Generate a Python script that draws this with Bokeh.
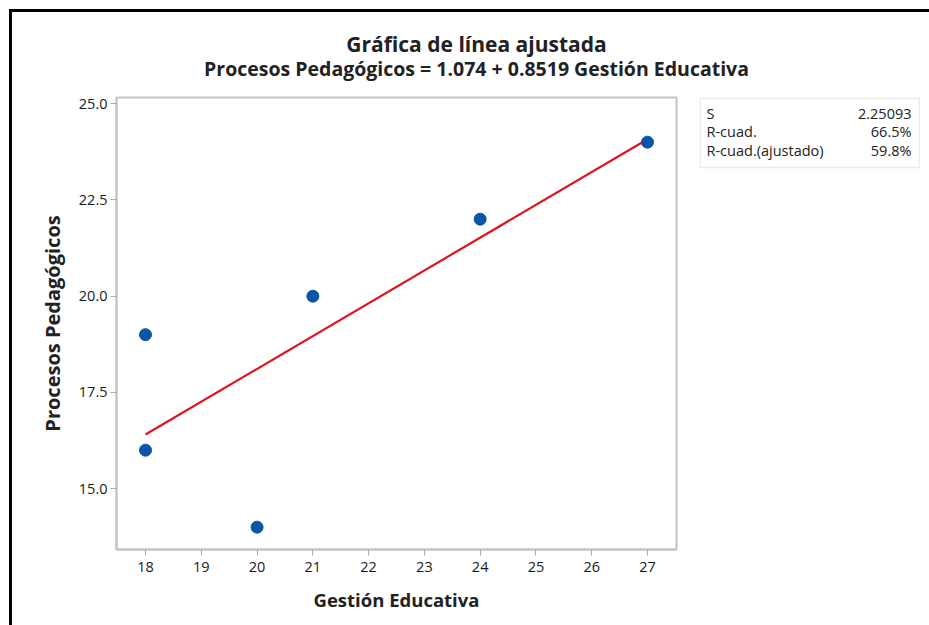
from bokeh.plotting import figure
from bokeh.models import FixedTicker, NumeralTickFormatter, Range1d, Div, Spacer, BoxAnnotation
from bokeh.layouts import row, column
from bokeh.core.properties import value
from bokeh.embed import file_html
from bokeh.resources import INLINE

# ---- data ----
gestion = [18, 18, 20, 21, 24, 27]
procesos = [19, 16, 14, 20, 22, 24]
intercept = 1.074
slope = 0.8519
x_ticks = [18, 19, 20, 21, 22, 23, 24, 25, 26, 27]
y_ticks = [15.0, 17.5, 20.0, 22.5, 25.0]
stat_names = ["S", "R-cuad.", "R-cuad.(ajustado)"]
stat_values = ["2.25093", "66.5%", "59.8%"]
title_text = "Gráfica de línea ajustada"
subtitle_text = "Procesos Pedagógicos = 1.074 + 0.8519 Gestión Educativa"
x_label = "Gestión Educativa"
y_label = "Procesos Pedagógicos"

FONT = "Open Sans"
TXT = "#222222"

fit_x = [min(gestion), max(gestion)]
fit_y = [intercept + slope * v for v in fit_x]


def bare(fig):
    fig.xgrid.visible = False
    fig.ygrid.visible = False
    fig.background_fill_color = "white"
    fig.border_fill_color = "white"
    return fig


# ---- header with titles ----
HW, HH = 917, 80
header = bare(figure(width=HW, height=HH, output_backend="svg", toolbar_location=None,
                     x_range=Range1d(0, HW), y_range=Range1d(HH, 0),
                     x_axis_type=None, y_axis_type=None,
                     min_border=0, min_border_left=0, min_border_right=0,
                     min_border_top=0, min_border_bottom=0))
header.outline_line_color = None
header.text(x=[464], y=[31], text=[title_text], text_align="center", text_baseline="alphabetic",
            text_font=value(FONT), text_font_size="21px", text_font_style="bold", text_color=TXT)
header.text(x=[464], y=[56], text=[subtitle_text], text_align="center", text_baseline="alphabetic",
            text_font=value(FONT), text_font_size="19.5px", text_font_style="bold", text_color=TXT)

# ---- main chart ----
PW, PH = 677, 533
MB_TOP, MB_BOTTOM = 5, 76
p = bare(figure(width=PW, height=PH, output_backend="svg", toolbar_location=None,
                x_range=Range1d(17.48, 27.52), y_range=Range1d(13.42, 25.16),
                min_border_left=104, min_border_right=13,
                min_border_top=MB_TOP, min_border_bottom=MB_BOTTOM))
p.outline_line_color = "#C4C4C4"
p.outline_line_width = 2

p.line(fit_x, fit_y, line_color="#E0141E", line_width=2.2)
p.scatter(gestion, procesos, size=12, fill_color="#0A55A8", line_color="#0A55A8")

for ax in (p.xaxis[0], p.yaxis[0]):
    ax.axis_line_color = "#C4C4C4"
    ax.axis_line_width = 2
    ax.major_tick_line_color = "#A8A8A8"
    ax.major_tick_out = 6
    ax.major_tick_in = 0
    ax.minor_tick_line_color = None
    ax.major_label_text_font = FONT
    ax.major_label_text_font_size = "14.5px"
    ax.major_label_text_color = "#1A1A1A"
    ax.axis_label_text_font = FONT
    ax.axis_label_text_font_style = "bold"
    ax.axis_label_text_color = TXT

p.xaxis[0].axis_label_text_font_size = "18.5px"
p.yaxis[0].axis_label_text_font_size = "20px"
p.xaxis[0].ticker = FixedTicker(ticks=x_ticks)
p.yaxis[0].ticker = FixedTicker(ticks=y_ticks)
p.yaxis[0].formatter = NumeralTickFormatter(format="0.0")
p.xaxis[0].axis_label = x_label
p.yaxis[0].axis_label = y_label
p.xaxis[0].axis_label_standoff = 12
p.yaxis[0].axis_label_standoff = 10
p.xaxis[0].major_label_standoff = 6
p.yaxis[0].major_label_standoff = 3

# ---- stats box (frame aligned with main chart frame; units = pixels from frame top) ----
QW = 240
FH = PH - MB_TOP - MB_BOTTOM
q = bare(figure(width=QW, height=PH, output_backend="svg", toolbar_location=None,
                x_range=Range1d(0, 221), y_range=Range1d(FH, 0),
                x_axis_type=None, y_axis_type=None,
                min_border_left=10, min_border_right=QW - 10 - 221,
                min_border_top=MB_TOP, min_border_bottom=MB_BOTTOM))
q.outline_line_color = None
q.add_layout(BoxAnnotation(left=0.75, right=220, top=0.75, bottom=70,
                           fill_color=None, line_color="#BDBDBD", line_width=1.5))
row_y = [16, 34, 53]
q.text(x=[7] * 3, y=row_y, text=stat_names, text_align="left", text_baseline="middle",
       text_font=value(FONT), text_font_size="14.5px", text_color=TXT)
q.text(x=[212] * 3, y=row_y, text=stat_values, text_align="right", text_baseline="middle",
       text_font=value(FONT), text_font_size="14.5px", text_color=TXT)

# ---- page frame with black top/left border ----
top_line = Div(text="", width=917 + 3, height=3, margin=0, styles={"background-color": "black"})
left_line = Div(text="", width=3, height=HH + PH, margin=0, styles={"background-color": "black"})

layout = column(
    Spacer(width=929, height=9, margin=0),
    row(Spacer(width=9, height=616, margin=0),
        column(top_line,
               row(left_line,
                   column(header, row(p, q, spacing=0), spacing=0),
                   spacing=0),
               spacing=0),
        spacing=0),
    spacing=0,
)

open("out.html", "w").write(file_html(layout, INLINE))
